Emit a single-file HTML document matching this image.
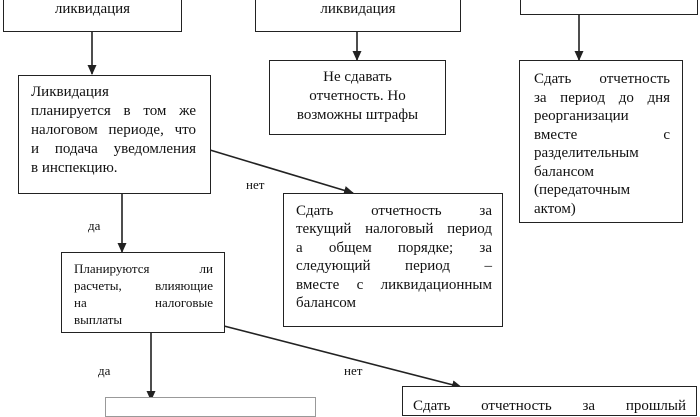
<!DOCTYPE html>
<html><head><meta charset="utf-8"><style>
body{margin:0;width:700px;height:400px;overflow:hidden;background:#fff;position:relative;font-family:"Liberation Serif",serif;color:#111}
.b{position:absolute;border:1px solid #222;box-sizing:border-box;background:#fff;font-size:15px;line-height:19px}
.b div{text-align:justify;text-align-last:justify;white-space:nowrap}
.b div.n{text-align-last:left}
.c div{text-align:center;text-align-last:center}
.l{position:absolute;font-size:13px}
</style></head><body>
<svg width="700" height="400" style="position:absolute;left:0;top:0">
<defs><marker id="a" markerWidth="10" markerHeight="10" refX="9" refY="5" orient="auto" markerUnits="userSpaceOnUse"><path d="M0,0.5L10,5L0,9.5z" fill="#222"/></marker></defs>
<g stroke="#222" stroke-width="1.6" fill="none">
<line x1="92" y1="31" x2="92" y2="74" marker-end="url(#a)"/>
<line x1="357" y1="31" x2="357" y2="60" marker-end="url(#a)"/>
<line x1="579" y1="14" x2="579" y2="60" marker-end="url(#a)"/>
<line x1="210" y1="150" x2="353" y2="193" marker-end="url(#a)"/>
<line x1="122" y1="193" x2="122" y2="252" marker-end="url(#a)"/>
<line x1="151" y1="332" x2="151" y2="400" marker-end="url(#a)"/>
<line x1="224" y1="326" x2="461" y2="387" marker-end="url(#a)"/>
</g></svg>
<div class="b c" style="left:3px;top:-20px;width:179px;height:52px;padding-top:19px"><div>ликвидация</div></div>
<div class="b c" style="left:255px;top:-20px;width:206px;height:52px;padding-top:19px"><div>ликвидация</div></div>
<div class="b" style="left:520px;top:-20px;width:178px;height:35px"></div>
<div class="b" style="left:18px;top:75px;width:193px;height:119px;padding:7px 14px 0 12px"><div class="n">Ликвидация</div><div>планируется в том же</div><div>налоговом периоде, что</div><div>и подача уведомления</div><div class="n">в инспекцию.</div></div>
<div class="b c" style="left:269px;top:60px;width:177px;height:75px;padding:7px 6px"><div>Не сдавать</div><div>отчетность. Но</div><div>возможны штрафы</div></div>
<div class="b" style="left:519px;top:60px;width:164px;height:163px;padding:9px 12px 0 14px;line-height:18.5px"><div>Сдать отчетность</div><div>за период до дня</div><div class="n">реорганизации</div><div>вместе с</div><div class="n">разделительным</div><div class="n">балансом</div><div class="n">(передаточным</div><div class="n">актом)</div></div>
<div class="b" style="left:283px;top:193px;width:220px;height:134px;padding:8px 10px 0 12px;line-height:18.4px"><div>Сдать отчетность за</div><div>текущий налоговый период</div><div>а общем порядке; за</div><div>следующий период –</div><div>вместе с ликвидационным</div><div class="n">балансом</div></div>
<div class="b" style="left:61px;top:252px;width:164px;height:81px;padding:7px 11px 0 12px;font-size:13px;line-height:17px"><div>Планируются ли</div><div>расчеты, влияющие</div><div>на налоговые</div><div class="n">выплаты</div></div>
<div class="b" style="left:105px;top:397px;width:211px;height:20px;border-color:#999"></div>
<div class="b" style="left:402px;top:386px;width:295px;height:30px;padding:10px 10px"><div>Сдать отчетность за прошлый</div></div>
<div class="l" style="left:246px;top:177px">нет</div>
<div class="l" style="left:88px;top:218px">да</div>
<div class="l" style="left:98px;top:363px">да</div>
<div class="l" style="left:344px;top:363px">нет</div>
</body></html>
